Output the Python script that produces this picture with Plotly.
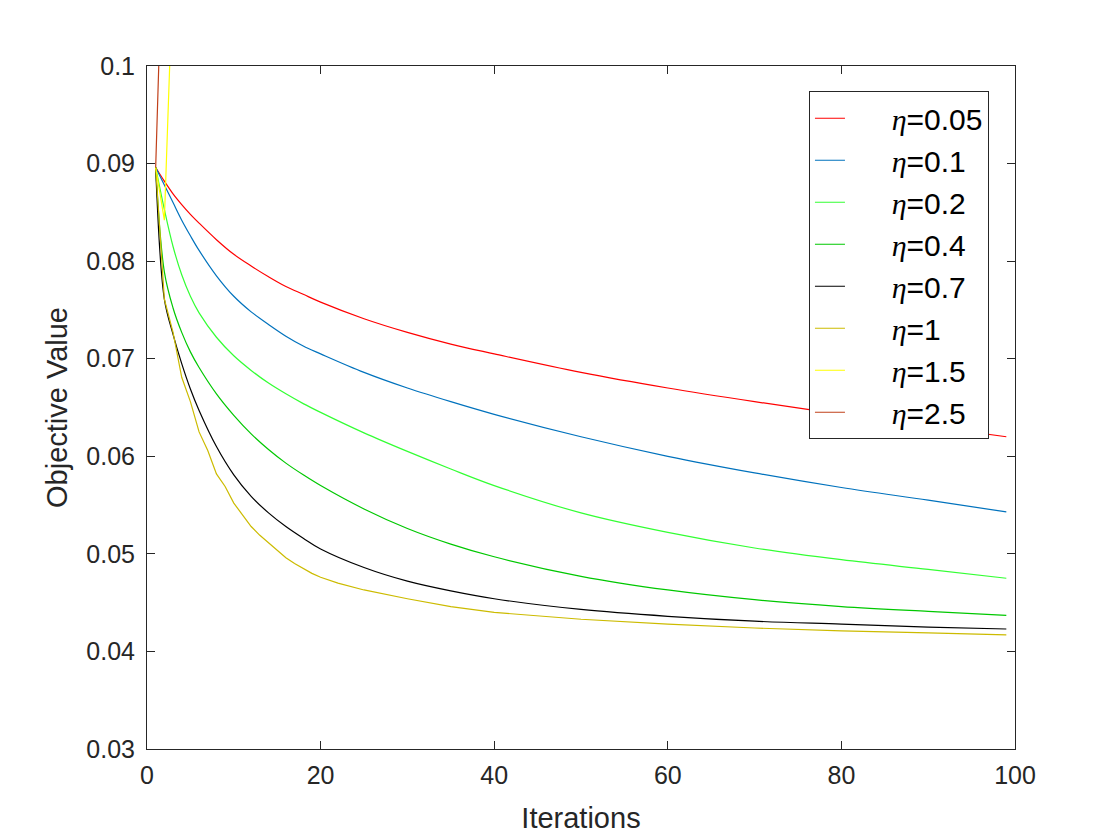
import plotly.graph_objects as go

iters = [1, 2, 3, 4, 5, 6, 8, 10, 12, 14, 16, 18, 20, 25, 30, 35, 40, 50, 60, 70, 80, 90, 99]
iters_eta1 = [1, 2, 3, 4, 5, 6, 7, 8, 9, 10, 11, 12, 13, 14, 15, 16, 17, 18, 19, 20,
              22, 25, 30, 35, 40, 50, 60, 70, 80, 90, 99]
iters_eta15 = [1, 2, 3, 4]
iters_eta25 = [1, 2, 3]

obj_005 = [0.0896, 0.0882, 0.0869, 0.0858, 0.0848, 0.0839, 0.0822, 0.0807, 0.0795, 0.0784,
           0.0774, 0.0766, 0.0758, 0.0741, 0.0727, 0.0715, 0.0705, 0.0686, 0.0670, 0.0656,
           0.0643, 0.0631, 0.0620]
obj_01 = [0.0896, 0.0878, 0.0860, 0.0842, 0.0826, 0.0811, 0.0785, 0.0764, 0.0748, 0.0735,
          0.0723, 0.0713, 0.0705, 0.0686, 0.0670, 0.0656, 0.0643, 0.0620, 0.0600, 0.0583,
          0.0568, 0.0555, 0.0543]
obj_02 = [0.0896, 0.0853, 0.0815, 0.0786, 0.0764, 0.0747, 0.0722, 0.0703, 0.0688, 0.0675,
          0.0664, 0.0654, 0.0645, 0.0624, 0.0605, 0.0587, 0.0570, 0.0542, 0.0522, 0.0506,
          0.0494, 0.0484, 0.0475]
obj_04 = [0.0896, 0.0789, 0.0752, 0.0727, 0.0707, 0.0691, 0.0664, 0.0642, 0.0623, 0.0607,
          0.0593, 0.0581, 0.0570, 0.0546, 0.0526, 0.0510, 0.0497, 0.0477, 0.0463, 0.0453,
          0.0446, 0.0441, 0.0437]
obj_07 = [0.0896, 0.0761, 0.0725, 0.0695, 0.0669, 0.0647, 0.0610, 0.0581, 0.0559, 0.0542,
          0.0528, 0.0516, 0.0505, 0.0486, 0.0472, 0.0462, 0.0454, 0.0443, 0.0436, 0.0431,
          0.0428, 0.0425, 0.0423]
obj_1 = [0.0896, 0.0761, 0.0727, 0.0681, 0.0656, 0.0625, 0.0606, 0.0582, 0.0569, 0.0552,
         0.0540, 0.0528, 0.0519, 0.0511, 0.0503, 0.0496, 0.0490, 0.0485, 0.0480, 0.0476,
         0.0470, 0.0463, 0.0454, 0.0446, 0.0440, 0.0433, 0.0428, 0.0424, 0.0421, 0.0419, 0.0417]
obj_15 = [0.0896, 0.0842, 0.1100, 0.2000]
obj_25 = [0.0896, 0.1190, 0.2500]

labels = ["0.05", "0.1", "0.2", "0.4", "0.7", "1", "1.5", "2.5"]
colors = ["#FF0000", "#0072BD", "#33FF33", "#00C800", "#000000", "#CCBB00", "#FFFF00", "#C0401A"]

xtick_vals = [0, 20, 40, 60, 80, 100]
ytick_vals = [0.03, 0.04, 0.05, 0.06, 0.07, 0.08, 0.09, 0.1]
ytick_text = ["0.03", "0.04", "0.05", "0.06", "0.07", "0.08", "0.09", "0.1"]

series = [
    (iters, obj_005, "spline"),
    (iters, obj_01, "spline"),
    (iters, obj_02, "spline"),
    (iters, obj_04, "spline"),
    (iters, obj_07, "spline"),
    (iters_eta1, obj_1, "linear"),
    (iters_eta15, obj_15, "linear"),
    (iters_eta25, obj_25, "linear"),
]

pad = "\u00a0" * 5  # widen legend box like matlab's longer line samples
fig = go.Figure()
for k, (xs, ys, shape) in enumerate(series):
    fig.add_trace(go.Scatter(
        x=xs, y=ys, mode="lines",
        line=dict(color=colors[k], width=1.2, shape=shape),
        name=pad + '<span style="font-family:Liberation Serif"><i>η</i></span>=' + labels[k],
        legendgroup="g%d" % k,
    ))

sans = "Liberation Sans, Arial"
tick_font = dict(family=sans, size=25, color="#262626")
title_font = dict(family=sans, size=29, color="#262626")

fig.update_layout(
    width=1120, height=840,
    paper_bgcolor="white", plot_bgcolor="white",
    margin=dict(l=139, r=113, t=58, b=99),
    font=dict(family=sans, color="#262626"),
    showlegend=True,
    legend=dict(
        x=0.970, y=0.963, xanchor="right", yanchor="top",
        bgcolor="white", bordercolor="#262626", borderwidth=1,
        font=dict(family=sans, size=30, color="black"),
        traceorder="grouped", tracegroupgap=0,
    ),
)
fig.update_xaxes(
    range=[0, 100], tickvals=xtick_vals, ticks="inside", ticklen=8, tickcolor="#262626",
    showline=True, linecolor="#262626", linewidth=1, mirror="ticks",
    showgrid=False, zeroline=False, tickfont=tick_font, ticklabelstandoff=4,
    title=dict(text="Iterations", font=title_font, standoff=19),
)
fig.update_yaxes(
    range=[0.03, 0.1], tickvals=ytick_vals, ticktext=ytick_text, ticks="inside", ticklen=8,
    tickcolor="#262626", showline=True, linecolor="#262626", linewidth=1, mirror="ticks",
    showgrid=False, zeroline=False, tickfont=tick_font, ticklabelstandoff=6,
    title=dict(text="Objective Value", font=title_font, standoff=10),
)

fig.write_html("out.html")
